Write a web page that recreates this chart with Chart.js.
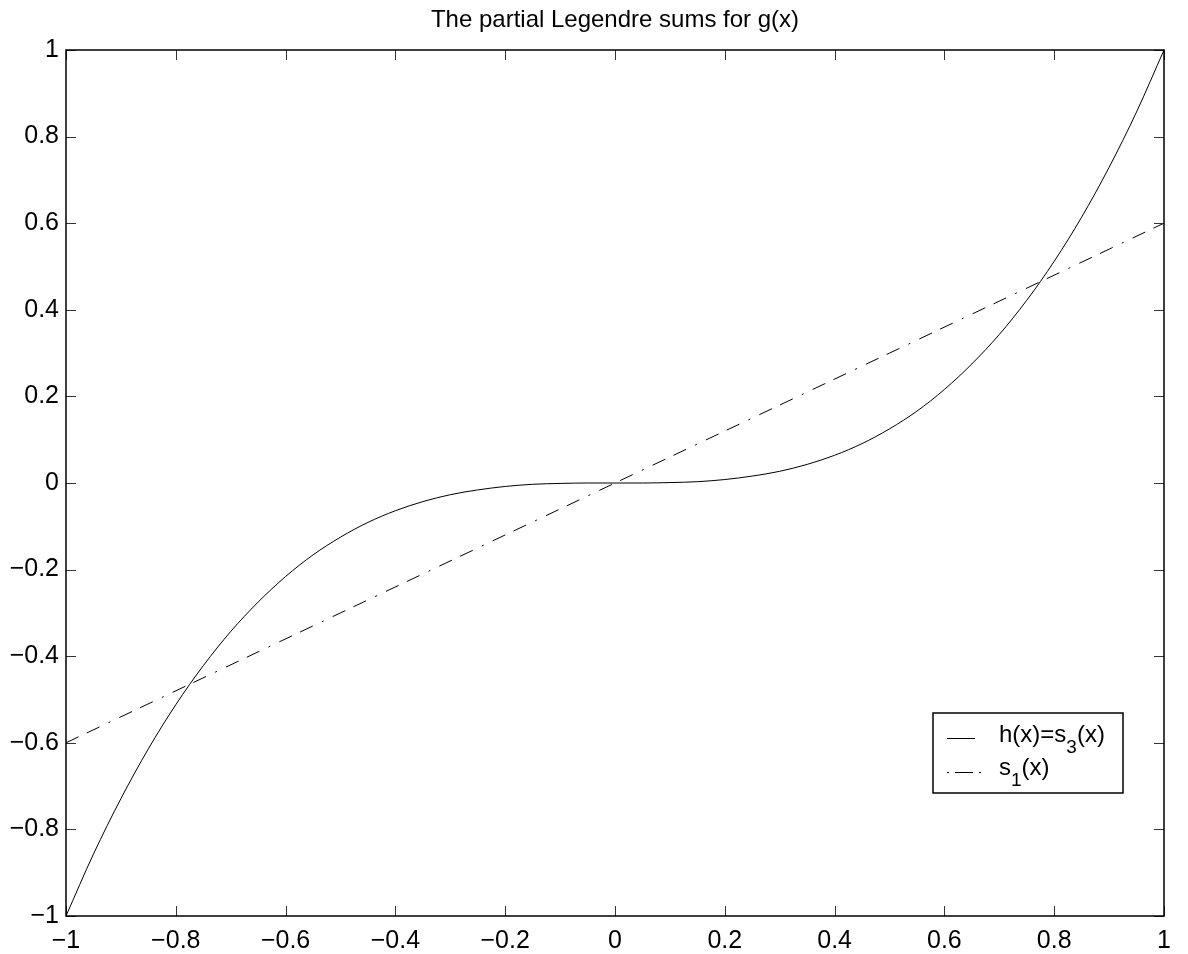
<!DOCTYPE html>
<html lang="en">
<head>
    <meta charset="UTF-8">
    <title>The partial Legendre sums for g(x)</title>
    <script src="https://cdn.jsdelivr.net/npm/chart.js"></script>
    <style>
        body {
            margin: 0;
            background: #fff;
        }
        #wrap {
            width: 1188px;
            height: 954px;
        }
    </style>
</head>
<body>
    <div id="wrap"><canvas id="myChart"></canvas></div>

    <script>
        // values
        const xValues = [-1, -0.95, -0.9, -0.85, -0.8, -0.75, -0.7, -0.65, -0.6, -0.55, -0.5,
                         -0.45, -0.4, -0.35, -0.3, -0.25, -0.2, -0.15, -0.1, -0.05, 0,
                         0.05, 0.1, 0.15, 0.2, 0.25, 0.3, 0.35, 0.4, 0.45, 0.5,
                         0.55, 0.6, 0.65, 0.7, 0.75, 0.8, 0.85, 0.9, 0.95, 1];
        const hValues = [-1, -0.857, -0.729, -0.614, -0.512, -0.422, -0.343, -0.275, -0.216, -0.166, -0.125,
                         -0.091, -0.064, -0.043, -0.027, -0.016, -0.008, -0.003, -0.001, 0, 0,
                         0, 0.001, 0.003, 0.008, 0.016, 0.027, 0.043, 0.064, 0.091, 0.125,
                         0.166, 0.216, 0.275, 0.343, 0.422, 0.512, 0.614, 0.729, 0.857, 1];
        const s1X = [-1, -0.5, 0, 0.5, 1];
        const s1Values = [-0.6, -0.3, 0, 0.3, 0.6];
        const xTicks = [-1, -0.8, -0.6, -0.4, -0.2, 0, 0.2, 0.4, 0.6, 0.8, 1];
        const yTicks = [-1, -0.8, -0.6, -0.4, -0.2, 0, 0.2, 0.4, 0.6, 0.8, 1];
        const titleText = 'The partial Legendre sums for g(x)';

        const FONT = '"Liberation Sans", Arial, Helvetica, sans-serif';

        const fmt = v => {
            const r = Math.round(v * 10) / 10;
            return r < 0 ? '\u2212' + String(-r) : String(r);
        };

        // box round the axes with the ticks pointing inwards, like matlab
        const frameTicksPlugin = {
            id: 'frameTicksPlugin',
            afterDatasetsDraw(chart) {
                const {ctx, chartArea: a} = chart;
                const sx = chart.scales.x, sy = chart.scales.y;
                ctx.save();
                ctx.strokeStyle = '#333';
                ctx.lineWidth = 1;
                ctx.beginPath();
                xTicks.forEach(v => {
                    const px = Math.round(sx.getPixelForValue(v)) + 0.5;
                    ctx.moveTo(px, a.bottom); ctx.lineTo(px, a.bottom - 10);
                    ctx.moveTo(px, a.top); ctx.lineTo(px, a.top + 10);
                });
                yTicks.forEach(v => {
                    const py = Math.round(sy.getPixelForValue(v)) + 0.5;
                    ctx.moveTo(a.left, py); ctx.lineTo(a.left + 10, py);
                    ctx.moveTo(a.right, py); ctx.lineTo(a.right - 10, py);
                });
                ctx.stroke();
                ctx.strokeStyle = '#000';
                ctx.lineWidth = 1.5;
                ctx.strokeRect(a.left, a.top, a.right - a.left, a.bottom - a.top);

                // title centred over the axes
                ctx.fillStyle = '#000';
                ctx.font = '24px ' + FONT;
                ctx.textAlign = 'center';
                ctx.textBaseline = 'alphabetic';
                ctx.fillText(titleText, (a.left + a.right) / 2, 27);
                ctx.restore();
            }
        };

        // legend with subscripts
        const legendPlugin = {
            id: 'legendPlugin',
            afterDraw(chart) {
                const {ctx} = chart;
                ctx.save();
                ctx.fillStyle = '#fff';
                ctx.fillRect(933, 713, 190, 80);
                ctx.strokeStyle = '#000';
                ctx.lineWidth = 1.5;
                ctx.strokeRect(933, 713, 190, 80);

                ctx.lineWidth = 1;
                ctx.beginPath();
                ctx.moveTo(947, 738.5); ctx.lineTo(975, 738.5);
                ctx.moveTo(955, 772.5); ctx.lineTo(973, 772.5);
                ctx.stroke();
                ctx.fillStyle = '#000';
                ctx.fillRect(947, 772, 2, 1);
                ctx.fillRect(979, 772, 2, 1);

                ctx.textAlign = 'left';
                ctx.textBaseline = 'alphabetic';
                const row = (parts, x, y) => {
                    parts.forEach(([t, sub]) => {
                        ctx.font = (sub ? '19px ' : '24px ') + FONT;
                        ctx.fillText(t, x, sub ? y + 11 : y);
                        x += ctx.measureText(t).width;
                    });
                };
                row([['h(x)=s', false], ['3', true], ['(x)', false]], 999, 742);
                row([['s', false], ['1', true], ['(x)', false]], 999, 775);
                ctx.restore();
            }
        };

        const config = {
            type: 'scatter',
            data: {
                datasets: [{
                    label: 'h(x)=s3(x)',
                    data: xValues.map((x, i) => ({x: x, y: hValues[i]})),
                    showLine: true,
                    borderColor: '#000',
                    borderWidth: 1,
                    pointRadius: 0,
                    tension: 0.4,
                    cubicInterpolationMode: 'monotone'
                }, {
                    label: 's1(x)',
                    data: s1X.map((x, i) => ({x: x, y: s1Values[i]})),
                    showLine: true,
                    borderColor: '#000',
                    borderWidth: 1,
                    borderDash: [14, 9, 14, 10, 2, 10],
                    pointRadius: 0
                }]
            },
            options: {
                responsive: true,
                maintainAspectRatio: false,
                animation: false,
                layout: {
                    padding: {left: 0, right: 24, top: 50, bottom: 0}
                },
                plugins: {
                    legend: {display: false},
                    tooltip: {enabled: false},
                    title: {display: false}
                },
                scales: {
                    x: {
                        type: 'linear',
                        min: -1,
                        max: 1,
                        afterBuildTicks: s => { s.ticks = xTicks.map(v => ({value: v})); },
                        afterFit: s => { s.height = 38; },
                        grid: {display: false, drawTicks: false},
                        border: {display: false},
                        ticks: {
                            color: '#000',
                            padding: 10,
                            maxRotation: 0,
                            autoSkip: false,
                            font: {family: FONT, size: 25},
                            callback: v => fmt(v)
                        }
                    },
                    y: {
                        type: 'linear',
                        min: -1,
                        max: 1,
                        afterBuildTicks: s => { s.ticks = yTicks.map(v => ({value: v})); },
                        afterFit: s => { s.width = 66; },
                        grid: {display: false, drawTicks: false},
                        border: {display: false},
                        ticks: {
                            color: '#000',
                            padding: 7,
                            autoSkip: false,
                            font: {family: FONT, size: 25},
                            callback: v => fmt(v)
                        }
                    }
                }
            },
            plugins: [frameTicksPlugin, legendPlugin]
        };

        new Chart(document.getElementById('myChart'), config);
    </script>
</body>
</html>
